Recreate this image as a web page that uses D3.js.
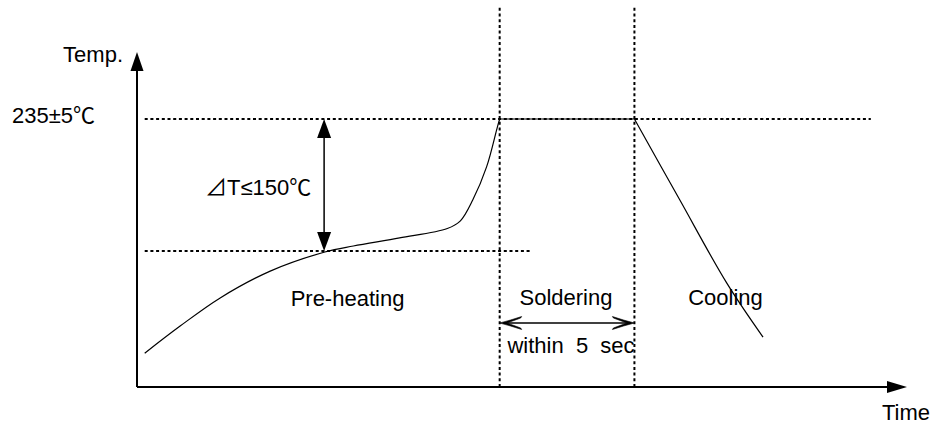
<!DOCTYPE html>
<html><head><meta charset="utf-8">
<script src="https://cdn.jsdelivr.net/npm/d3@7"></script>
<style>
html,body{margin:0;padding:0;background:#fff;}
text{font-family:"Liberation Sans",Arial,"Noto Sans CJK JP",sans-serif;fill:#000;white-space:pre;}
</style></head><body>
<svg id="c" width="937" height="425"></svg>
<script>
// schematic units: time 0..100, temperature 0..100
const heatTime = [1.0, 5.6, 10.8, 17.3, 24.4, 28.1, 34.1, 40.3, 42.0, 43.6, 45.4, 46.8, 47.1];
const heatTemp = [10.1, 18.2, 26.6, 34.6, 40.3, 42.1, 44.5, 47.3, 49.6, 55.8, 65.7, 77.6, 80.0];
const soakTime = [47.1, 64.6];
const soakTemp = [80.0, 80.0];
const coolTime = [64.6, 70.5, 76.6, 81.3];
const coolTemp = [80.0, 55.8, 31.0, 14.9];
const peakTemp = 80.0, preheatTemp = 40.6;
const solderStart = 47.1, solderEnd = 64.6;
const peakLabel = "235±5℃";
const deltaLabel = "⊿T≤150℃";
const phaseLabels = ["Pre-heating", "Soldering", "Cooling"];
const solderNote = "within  5  sec";
const axisLabels = ["Temp.", "Time"];

const svg = d3.select("#c");
const x = d3.scaleLinear().domain([0, 100]).range([137, 907]);
const y = d3.scaleLinear().domain([0, 100]).range([387, 52]);
const FS = 22;

// axes
svg.append("line").attr("x1", x(0)).attr("y1", y(0)).attr("x2", x(97.5)).attr("y2", y(0))
  .attr("stroke", "#000").attr("stroke-width", 2);
svg.append("line").attr("x1", x(0)).attr("y1", y(0)).attr("x2", x(0)).attr("y2", y(95))
  .attr("stroke", "#000").attr("stroke-width", 2);
svg.append("path").attr("d", `M${x(100)},${y(0)} L${x(100)-20},${y(0)-6} L${x(100)-20},${y(0)+6} Z`).attr("fill", "#000");
svg.append("path").attr("d", `M${x(0)},${y(100)} L${x(0)-6.5},${y(100)+19} L${x(0)+6.5},${y(100)+19} Z`).attr("fill", "#000");

// dotted guides
const dot = g => g.attr("stroke", "#000").attr("stroke-width", 2).attr("stroke-dasharray", "3,2.7").attr("fill", "none");
svg.append("line").attr("x1", x(1.0)).attr("x2", x(95.3)).attr("y1", y(peakTemp)).attr("y2", y(peakTemp)).call(dot);
svg.append("line").attr("x1", x(1.0)).attr("x2", x(51.0)).attr("y1", y(preheatTemp)).attr("y2", y(preheatTemp)).call(dot);
[solderStart, solderEnd].forEach(t => {
  svg.append("line").attr("x1", x(t)).attr("x2", x(t)).attr("y1", y(0)).attr("y2", y(113.5)).call(dot);
});

// profile curve
const line = d3.line().x(d => x(d[0])).y(d => y(d[1]));
const seg = (ts, vs, curve) => svg.append("path")
  .attr("d", line.curve(curve)(ts.map((t, i) => [t, vs[i]])))
  .attr("fill", "none").attr("stroke", "#000").attr("stroke-width", 1.2);
seg(heatTime, heatTemp, d3.curveCatmullRom.alpha(0.5));
seg(soakTime, soakTemp, d3.curveLinear);
seg(coolTime, coolTemp, d3.curveCatmullRom.alpha(0.5));

// delta T arrow
const ax = x(24.3);
svg.append("line").attr("x1", ax).attr("x2", ax).attr("y1", y(peakTemp) + 10).attr("y2", y(preheatTemp) - 10)
  .attr("stroke", "#000").attr("stroke-width", 1.5);
svg.append("path").attr("d", `M${ax},${y(peakTemp)} L${ax-7},${y(peakTemp)+19} L${ax+7},${y(peakTemp)+19} Z`).attr("fill", "#000");
svg.append("path").attr("d", `M${ax},${y(preheatTemp)} L${ax-7},${y(preheatTemp)-19} L${ax+7},${y(preheatTemp)-19} Z`).attr("fill", "#000");

// soldering double arrow
const sy = 323;
const x1 = x(solderStart), x2 = x(solderEnd);
svg.append("line").attr("x1", x1 + 4).attr("x2", x2 - 4).attr("y1", sy).attr("y2", sy)
  .attr("stroke", "#000").attr("stroke-width", 1.5);
const barb = (tx, dir) => {
  const p = (dx, dy) => `${tx + dir * dx},${sy + dy}`;
  return `M${p(0,0)} Q${p(10,-2.5)} ${p(22,-6.5)} L${p(21,-5)} Q${p(11,-1.2)} ${p(7,0)} Q${p(11,1.2)} ${p(21,5)} L${p(22,6.5)} Q${p(10,2.5)} ${p(0,0)} Z`;
};
svg.append("path").attr("d", barb(x1, 1)).attr("fill", "#000").attr("stroke", "#000").attr("stroke-width", 0.6);
svg.append("path").attr("d", barb(x2, -1)).attr("fill", "#000").attr("stroke", "#000").attr("stroke-width", 0.6);

// texts
const txt = (s, px, py, anchor) => svg.append("text").attr("x", px).attr("y", py)
  .attr("text-anchor", anchor || "start").attr("font-size", FS).text(s);
txt(axisLabels[0], 123, 62, "end");
txt(axisLabels[1], 882, 420);
txt(peakLabel, 12, 123);
txt(deltaLabel, 205, 195);
txt(phaseLabels[0], 347.5, 306, "middle");
txt(phaseLabels[1], 566, 305, "middle");
txt(phaseLabels[2], 725.5, 305, "middle");
txt(solderNote, 571, 353, "middle");
</script></body></html>
